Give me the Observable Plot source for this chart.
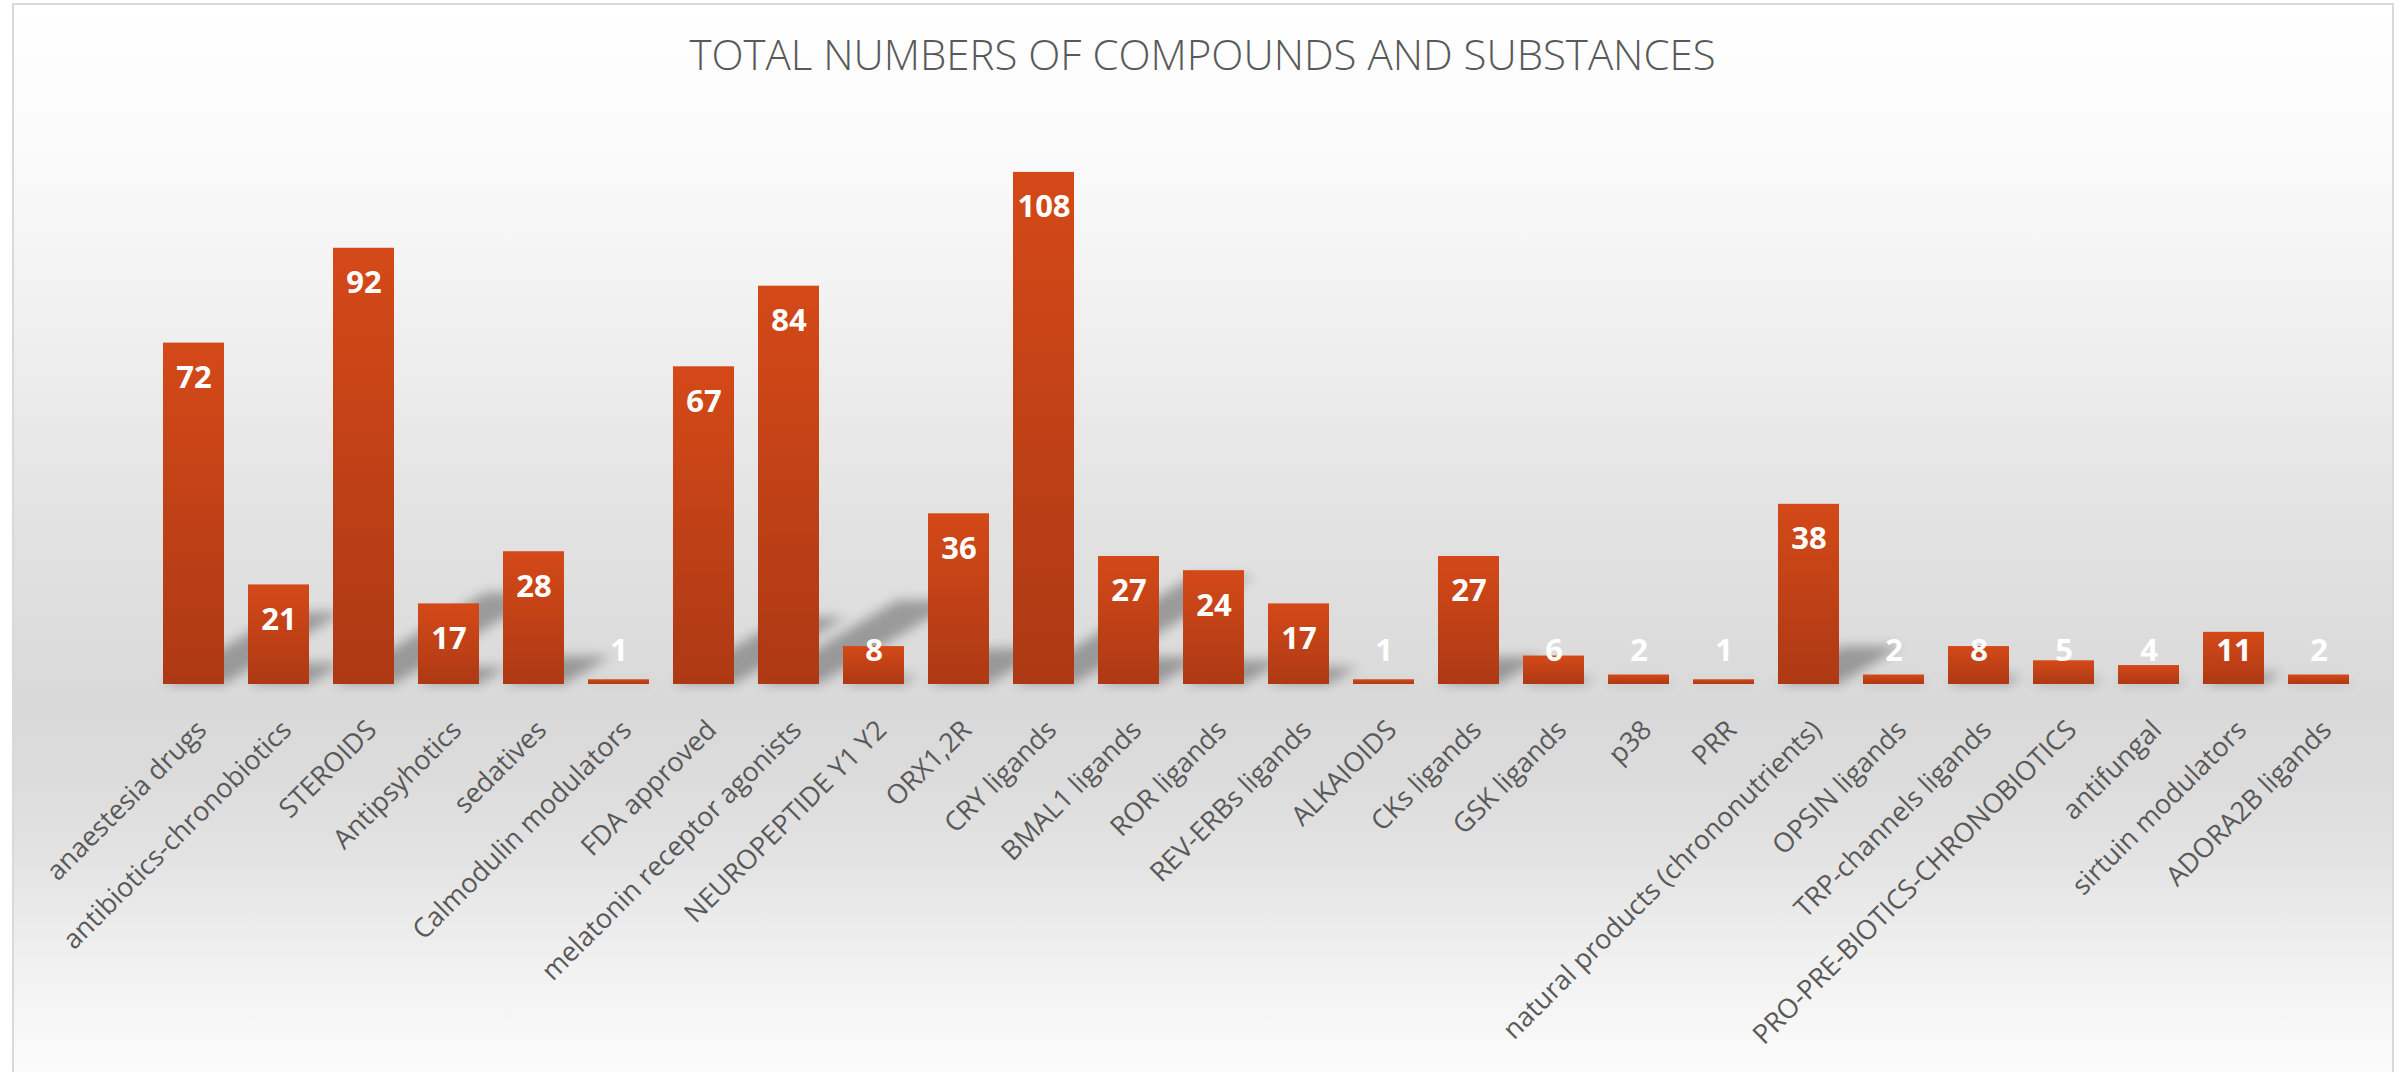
<!DOCTYPE html>
<html>
<head>
<meta charset="utf-8">
<script src="https://cdn.jsdelivr.net/npm/d3@7"></script>
<script src="https://cdn.jsdelivr.net/npm/@observablehq/plot@0.6"></script>
<style>
  html, body { margin: 0; padding: 0; background: #ffffff; }
  #page { position: relative; width: 2405px; height: 1072px; overflow: hidden; }
  #frame {
    position: absolute; left: 12px; top: 3px; width: 2382px; height: 1080px;
    border: 2px solid #d9d9d9; box-sizing: border-box;
    background: linear-gradient(to bottom, #ffffff 0%, #fafafa 14%, #f1f1f1 28%, #e3e3e3 47%, #d9d9d9 65%, #dcdcdc 72%, #e4e4e4 80%, #f1f1f1 89%, #fcfcfc 100%);
  }
  #title {
    position: absolute; left: 0; top: 33px; width: 2405px; text-align: center;
    font-family: "Open Sans", sans-serif; font-weight: 300; font-size: 42px; line-height: 1;
    color: #595959;
  }
  #chart { position: absolute; left: 0; top: 0; }
</style>
</head>
<body>
<div id="page">
  <div id="frame"></div>
  <div id="chart"></div>
  <div id="title"></div>
</div>
<script>
const chartTitle = "TOTAL NUMBERS OF COMPOUNDS AND SUBSTANCES";
const categories = [
  "anaestesia drugs", "antibiotics-chronobiotics", "STEROIDS", "Antipsyhotics", "sedatives",
  "Calmodulin modulators", "FDA approved", "melatonin receptor agonists", "NEUROPEPTIDE Y1 Y2",
  "ORX1,2R", "CRY ligands", "BMAL1 ligands", "ROR ligands", "REV-ERBs ligands", "ALKAIOIDS",
  "CKs ligands", "GSK ligands", "p38", "PRR", "natural products (chrononutrients)", "OPSIN ligands",
  "TRP-channels ligands", "PRO-PRE-BIOTICS-CHRONOBIOTICS", "antifungal", "sirtuin modulators",
  "ADORA2B ligands"
];
const values = [72, 21, 92, 17, 28, 1, 67, 84, 8, 36, 108, 27, 24, 17, 1, 27, 6, 2, 1, 38, 2, 8, 5, 4, 11, 2];

document.getElementById("title").textContent = chartTitle;

const data = categories.map((c, i) => ({category: c, value: values[i]}));
const SVGNS = "http://www.w3.org/2000/svg";

function defsMark() {
  const defs = document.createElementNS(SVGNS, "defs");
  defs.innerHTML = `
    <linearGradient id="barGrad" x1="0" y1="0" x2="0" y2="1">
      <stop offset="0%" stop-color="#d44918"/>
      <stop offset="100%" stop-color="#ad3914"/>
    </linearGradient>
    <filter id="shBlur" x="-50%" y="-50%" width="200%" height="200%">
      <feGaussianBlur stdDeviation="6"/>
    </filter>`;
  return defs;
}

function shadowMark(index, scales) {
  const sx = scales.x, sy = scales.y;
  const bw = typeof sx.bandwidth === "function" ? sx.bandwidth() : scales.scales.x.bandwidth;
  const y0 = sy(0);
  const g = document.createElementNS(SVGNS, "g");
  g.setAttribute("filter", "url(#shBlur)");
  g.setAttribute("opacity", "0.3");
  data.forEach(d => {
    const x0 = sx(d.category), x1 = x0 + bw;
    const h = y0 - sy(d.value);
    const sh = 0.21 * h, shift = sh / 0.6;
    const p = document.createElementNS(SVGNS, "path");
    p.setAttribute("d", `M${x0},${y0}L${x1},${y0}L${x1 + shift},${y0 - sh}L${x0 + shift},${y0 - sh}Z`);
    p.setAttribute("fill", "#000");
    g.appendChild(p);
  });
  return g;
}

const chart = Plot.plot({
  width: 2405,
  height: 1072,
  marginLeft: 150,
  marginRight: 44,
  marginTop: 115,
  marginBottom: 388,
  style: {background: "transparent", overflow: "visible", fontFamily: "'Open Sans', sans-serif"},
  x: {domain: categories, paddingInner: 0.283, paddingOuter: 0.1415, axis: null},
  y: {domain: [0, 120], axis: null},
  marks: [
    defsMark,
    shadowMark,
    Plot.barY(data, {x: "category", y: "value", fill: "url(#barGrad)"}),
    Plot.text(data, {
      x: "category", y: d => Math.max(d.value, 14.34), dy: 35,
      text: d => String(d.value), fill: "white", fontSize: 31, fontWeight: 700, lineAnchor: "middle"
    }),
    Plot.text(data, {
      x: "category", y: d => 0, dx: 8, dy: 41, text: "category",
      rotate: -45, textAnchor: "end", lineAnchor: "middle", fill: "#595959", fontSize: 27
    })
  ]
});
document.getElementById("chart").appendChild(chart);
</script>
</body>
</html>
